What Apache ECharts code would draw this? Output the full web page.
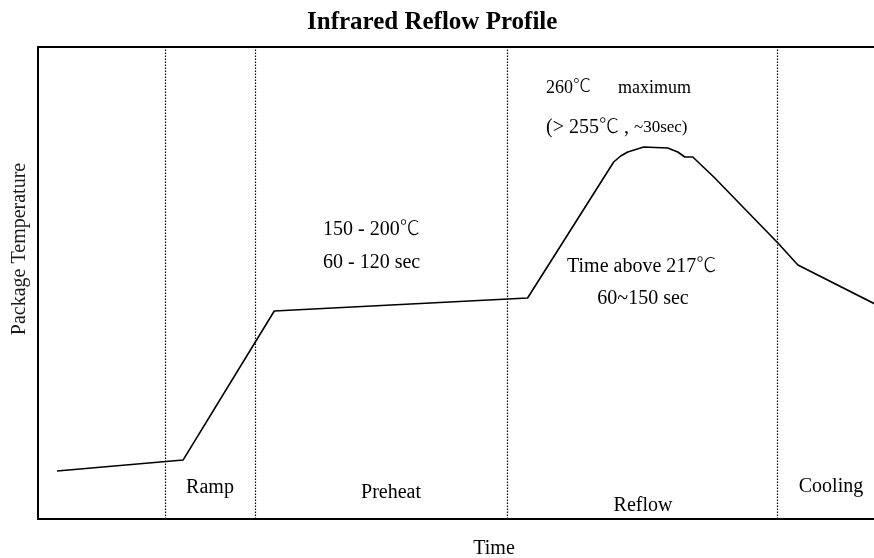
<!DOCTYPE html>
<html>
<head>
<meta charset="utf-8">
<title>Infrared Reflow Profile</title>
<script src="https://cdn.jsdelivr.net/npm/echarts@6/dist/echarts.min.js"></script>
<style>
  html, body { margin: 0; padding: 0; background: #fff; overflow: hidden; }
  #chart { width: 100vw; height: 100vh; }
</style>
</head>
<body>
<div id="chart"></div>
<script>
// profile (time in sec-ish units, temperature in degC)
const profileTime = [9.5, 72.5, 118, 244.5, 287.5, 291, 294.5, 302.5, 314.5, 319.5, 323, 327, 337.5, 369.5, 379.5, 418]
const profileTemp = [33.6, 41.3, 145.4, 154.5, 249.6, 253.8, 256.6, 260.1, 259.4, 256.6, 253.1, 253.1, 239.1, 193, 177.6, 150.3]

// zone boundaries (dotted lines)
const zoneBounds = [63.5, 108.5, 234.5, 369]

const serif = '"Liberation Serif", "DejaVu Serif", serif'
const cjk = '"Noto Sans CJK TC", "Noto Sans CJK SC", sans-serif'
const textColor = '#1a1a1a'

let myChart = echarts.init(document.getElementById('chart'))

// text label, the degree sign is set in a thin CJK face like the original
function txt(x, y, text, size, align) {
  size = size || 20
  return {
    type: 'text',
    x: x,
    y: y,
    style: {
      text: text,
      textAlign: align || 'center',
      textVerticalAlign: 'middle',
      rich: {
        a: { fontFamily: serif, fontSize: size, lineHeight: 24, color: textColor },
        d: { fontFamily: cjk, fontSize: size, fontWeight: 300, lineHeight: 24, padding: [0, 0, 5, 0], color: textColor },
        s: { fontFamily: serif, fontSize: size - 3, lineHeight: 24, color: textColor }
      }
    }
  }
}

// plain frame axis: only the line, no ticks or labels
function frameAxis(extra) {
  return Object.assign({
    type: 'value',
    axisLine: { show: true, lineStyle: { color: '#000', width: 2 } },
    axisTick: { show: false },
    axisLabel: { show: false },
    splitLine: { show: false }
  }, extra)
}

const options = {
  animation: false,
  title: {
    text: 'Infrared Reflow Profile',
    left: 302,
    top: 5,
    textStyle: {
      fontFamily: serif,
      fontWeight: 'bold',
      fontSize: 25,
      color: '#000'
    }
  },
  grid: {
    left: 38,
    right: -2,
    top: 47,
    bottom: 39
  },
  xAxis: [
    frameAxis({ position: 'bottom', min: 0, max: 417.5 }),
    frameAxis({ position: 'top', min: 0, max: 417.5 })
  ],
  yAxis: frameAxis({ position: 'left', min: 0, max: 330 }),
  series: [
    {
      type: 'line',
      data: profileTime.map((t, i) => [t, profileTemp[i]]),
      showSymbol: false,
      lineStyle: { color: '#000', width: 1.6 },
      markLine: {
        silent: true,
        symbol: 'none',
        label: { show: false },
        lineStyle: { color: '#000', type: [1.5, 1.5], width: 1.2 },
        data: zoneBounds.map(v => ({ xAxis: v }))
      }
    }
  ],
  graphic: [
    txt(494, 549, '{a|Time}'),
    {
      type: 'text',
      x: 20,
      y: 249,
      rotation: Math.PI / 2,
      style: {
        text: 'Package Temperature',
        font: '20px ' + serif,
        fill: textColor,
        textAlign: 'center',
        textVerticalAlign: 'middle'
      }
    },
    txt(210, 488, '{a|Ramp}'),
    txt(391, 493, '{a|Preheat}'),
    txt(643, 506, '{a|Reflow}'),
    txt(831, 487, '{a|Cooling}'),
    txt(323, 230, '{a|150 - 200}{d|\u2103}', 20, 'left'),
    txt(323, 263, '{a|60 - 120 sec}', 20, 'left'),
    txt(546, 88, '{a|260}{d|\u2103}{a|      maximum}', 18, 'left'),
    txt(546, 128, '{a|(> 255}{d|\u2103}{a| , }{s|~30sec)}', 20, 'left'),
    txt(567, 267, '{a|Time above 217}{d|\u2103}', 20, 'left'),
    txt(643, 299, '{a|60~150 sec}', 20)
  ]
}

myChart.setOption(options)
</script>
</body>
</html>
